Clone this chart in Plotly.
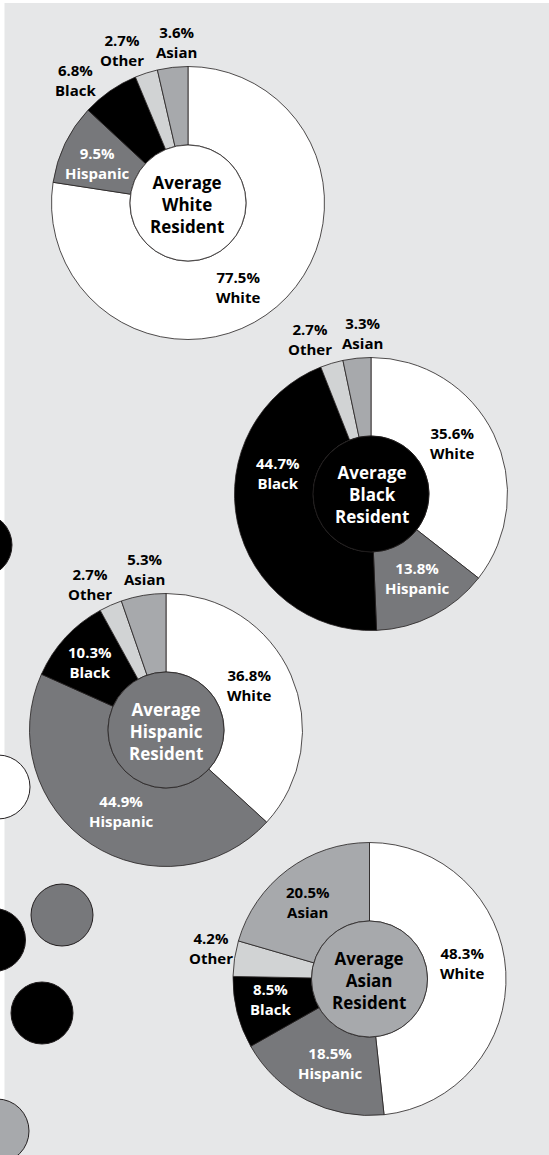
import plotly.graph_objects as go

# ---------------- data ----------------
categories = ["White", "Hispanic", "Black", "Other", "Asian"]
white_resident = [77.5, 9.5, 6.8, 2.7, 3.6]
black_resident = [35.6, 13.8, 44.7, 2.7, 3.3]
hispanic_resident = [36.8, 44.9, 10.3, 2.7, 5.3]
asian_resident = [48.3, 18.5, 8.5, 4.2, 20.5]
chart_titles = ["Average<br>White<br>Resident", "Average<br>Black<br>Resident",
                "Average<br>Hispanic<br>Resident", "Average<br>Asian<br>Resident"]

# ---------------- styling / layout ----------------
W, H = 549, 1155
BG = "#e6e7e8"
EDGE = "#231f20"
slice_colors = {"White": "#ffffff", "Hispanic": "#77787b", "Black": "#000000",
                "Other": "#d1d3d4", "Asian": "#a7a9ac"}
FONT = "Open Sans"
R_OUT = 136.5
R_IN = 58

charts = [
    dict(values=white_resident, title=chart_titles[0], center=(188, 203),
         hole_color="#ffffff", title_color="#000000", title_pos=(187, 204),
         labels={"White": (238, 287, "#000"), "Hispanic": (97, 163, "#fff"),
                 "Black": (75, 79.5, "#000"), "Other": (122, 50, "#000"),
                 "Asian": (176, 42, "#000")}),
    dict(values=black_resident, title=chart_titles[1], center=(371, 494),
         hole_color="#000000", title_color="#ffffff", title_pos=(372, 494),
         labels={"White": (452, 442.5, "#000"), "Hispanic": (417, 578, "#fff"),
                 "Black": (278, 473, "#fff"), "Other": (310, 339, "#000"),
                 "Asian": (362, 332.5, "#000")}),
    dict(values=hispanic_resident, title=chart_titles[2], center=(166, 730),
         hole_color="#77787b", title_color="#ffffff", title_pos=(166, 731),
         labels={"White": (249, 685, "#000"), "Hispanic": (121, 811, "#fff"),
                 "Black": (90, 662, "#fff"), "Other": (90, 584, "#000"),
                 "Asian": (144, 569, "#000")}),
    dict(values=asian_resident, title=chart_titles[3], center=(369.5, 979),
         hole_color="#a7a9ac", title_color="#000000", title_pos=(369, 980),
         labels={"White": (462, 962.5, "#000"), "Hispanic": (330, 1063, "#fff"),
                 "Black": (270, 999, "#fff"), "Other": (211, 948, "#000"),
                 "Asian": (308, 901.5, "#000")}),
]

# decorative circles at the left edge: (cx, cy, r, color)
deco = [(-20, 545, 32, "#000000"), (-2, 787, 32, "#ffffff"), (62, 915, 31, "#77787b"),
        (-6, 940, 31.5, "#000000"), (42, 1013, 31, "#000000"), (-3, 1131, 32, "#a7a9ac")]

fig = go.Figure()
# invisible trace to create the pixel-based cartesian frame
fig.add_trace(go.Scatter(x=[], y=[], showlegend=False, hoverinfo="skip"))

shapes = [dict(type="rect", xref="x", yref="y", x0=4.5, x1=W, y0=3, y1=H,
               fillcolor=BG, line=dict(width=0), layer="below")]
for cx, cy, r, col in deco:
    shapes.append(dict(type="circle", xref="x", yref="y", x0=cx - r, x1=cx + r,
                       y0=cy - r, y1=cy + r, fillcolor=col,
                       line=dict(color=EDGE, width=1), layer="below"))

annotations = []
for ch in charts:
    cx, cy = ch["center"]
    fig.add_trace(go.Pie(
        labels=categories, values=ch["values"], sort=False, direction="clockwise",
        rotation=0, hole=R_IN / R_OUT, textinfo="none", hoverinfo="label+value",
        showlegend=False,
        marker=dict(colors=[slice_colors[c] for c in categories],
                    line=dict(color=EDGE, width=0.8)),
        domain=dict(x=[(cx - R_OUT) / W, (cx + R_OUT) / W],
                    y=[1 - (cy + R_OUT) / H, 1 - (cy - R_OUT) / H]),
    ))
    shapes.append(dict(type="circle", xref="x", yref="y", x0=cx - R_IN, x1=cx + R_IN,
                       y0=cy - R_IN, y1=cy + R_IN, fillcolor=ch["hole_color"],
                       line=dict(color=EDGE, width=0.8), layer="above"))
    tx, ty = ch["title_pos"]
    annotations.append(dict(x=tx, y=ty, xref="x", yref="y",
                            text="<br>".join(f"<b>{s}</b>" for s in ch["title"].split("<br>")),
                            showarrow=False, align="center",
                            font=dict(family=FONT, size=17, color=ch["title_color"]),
                            xanchor="center", yanchor="middle"))
    for cat, val in zip(categories, ch["values"]):
        lx, ly, col = ch["labels"][cat]
        annotations.append(dict(x=lx, y=ly, xref="x", yref="y",
                                text=f"<b>{val}%</b><br><b>{cat}</b>", showarrow=False,
                                align="center",
                                font=dict(family=FONT, size=15, color=col),
                                xanchor="center", yanchor="middle"))

fig.update_layout(
    width=W, height=H, margin=dict(l=0, r=0, t=0, b=0),
    paper_bgcolor="#ffffff", plot_bgcolor="rgba(0,0,0,0)",
    xaxis=dict(range=[0, W], visible=False, fixedrange=True),
    yaxis=dict(range=[H, 0], visible=False, fixedrange=True),
    shapes=shapes, annotations=annotations, showlegend=False,
)
fig.write_html("out.html")
